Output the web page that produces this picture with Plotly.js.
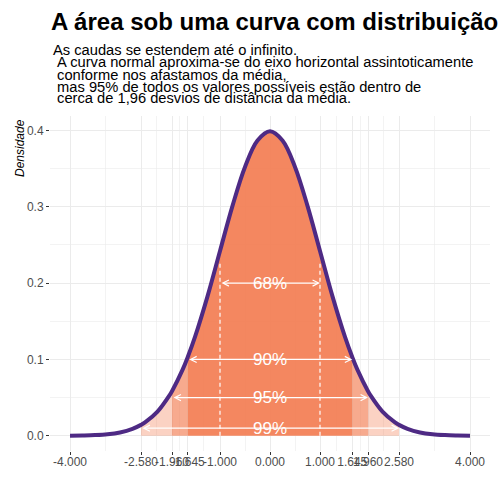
<!DOCTYPE html>
<html>
<head>
<meta charset="utf-8">
<script src="https://cdn.plot.ly/plotly-3.0.1.min.js"></script>
<style>html,body{margin:0;padding:0;background:#fff;}#chart{width:504px;height:504px;}</style>
</head>
<body>
<div id="chart"></div>
<script>
// Density curve values (standard normal shape)
const xVals = [-4.0, -3.75, -3.5, -3.25, -3.0, -2.75, -2.58, -2.5, -2.25, -2.0, -1.96, -1.75, -1.645, -1.5, -1.25, -1.0, -0.75, -0.5, -0.25, 0.0,
               0.25, 0.5, 0.75, 1.0, 1.25, 1.5, 1.645, 1.75, 1.96, 2.0, 2.25, 2.5, 2.58, 2.75, 3.0, 3.25, 3.5, 3.75, 4.0];
const density = [0.0001, 0.0004, 0.0009, 0.0020, 0.0044, 0.0091, 0.0143, 0.0175, 0.0317, 0.0540, 0.0584, 0.0863, 0.1031, 0.1295, 0.1826, 0.2420, 0.3011, 0.3521, 0.3867, 0.3989,
                 0.3867, 0.3521, 0.3011, 0.2420, 0.1826, 0.1295, 0.1031, 0.0863, 0.0584, 0.0540, 0.0317, 0.0175, 0.0143, 0.0091, 0.0044, 0.0020, 0.0009, 0.0004, 0.0001];

// Interval bounds and labels
const intervalLabels = ["68%", "90%", "95%", "99%"];
const intervalBounds = [1.0, 1.645, 1.96, 2.58];
const arrowHeights = [0.2, 0.1, 0.05, 0.01];

// Axis ticks
const xTicks = [-4, -2.58, -1.96, -1.645, -1, 0, 1, 1.645, 1.96, 2.58, 4];
const xTickText = ["-4.000", "-2.580", "-1.960", "-1.645", "-1.000", "0.000", "1.000", "1.645", "1.960", "2.580", "4.000"];
const yTicks = [0.0, 0.1, 0.2, 0.3, 0.4];
const yTickText = ["0.0", "0.1", "0.2", "0.3", "0.4"];
const yMinor = [0.05, 0.15, 0.25, 0.35];

const dashTop = 0.227;

const subtitleLines = [
  "As caudas se estendem até o infinito.",
  " A curva normal aproxima-se do eixo horizontal assintoticamente",
  " conforme nos afastamos da média,",
  " mas 95% de todos os valores possíveis estão dentro de",
  " cerca de 1,96 desvios de distância da média."
];

function segment(a, b) {
  const xs = [], ys = [];
  xVals.forEach((x, i) => { if (x >= a - 1e-9 && x <= b + 1e-9) { xs.push(x); ys.push(density[i]); } });
  return {xs, ys};
}

const outerCol = "rgba(243,125,82,0.35)";
const midCol = "rgba(243,125,82,0.65)";
const centerCol = "rgba(243,125,82,0.92)";

const regions = [
  [-intervalBounds[3], -intervalBounds[2], outerCol],
  [-intervalBounds[2], -intervalBounds[1], midCol],
  [-intervalBounds[1], intervalBounds[1], centerCol],
  [intervalBounds[1], intervalBounds[2], midCol],
  [intervalBounds[2], intervalBounds[3], outerCol]
];

const traces = [];
regions.forEach(r => {
  const s = segment(r[0], r[1]);
  traces.push({x: s.xs, y: s.ys, type: "scatter", mode: "lines", fill: "tozeroy",
    fillcolor: r[2], line: {width: 0, shape: "spline", color: r[2]}, hoverinfo: "skip", showlegend: false});
});
traces.push({x: xVals, y: density, type: "scatter", mode: "lines",
  line: {color: "#4E2A84", width: 4, shape: "spline"}, showlegend: false});
[-intervalBounds[0], intervalBounds[0]].forEach(xv => {
  traces.push({x: [xv, xv], y: [0, dashTop], type: "scatter", mode: "lines",
    line: {color: "#ffffff", width: 1.2, dash: "4px,3px"}, showlegend: false});
});

const L = 50, R = 490, T = 116, B = 451;
const px = v => (v - L) / (R - L);
const py = v => (B - v) / (B - T);

const annotations = [];
intervalLabels.forEach((lab, i) => {
  const b = intervalBounds[i], h = arrowHeights[i];
  annotations.push({x: b, y: h, ax: -b, ay: h, xref: "x", yref: "y", axref: "x", ayref: "y",
    showarrow: true, arrowside: "end+start", arrowhead: 5, startarrowhead: 5, arrowsize: 1, startarrowsize: 1,
    arrowwidth: 1.2, arrowcolor: "#ffffff", text: "", standoff: 0, startstandoff: 0});
  annotations.push({x: 0, y: h, xref: "x", yref: "y", text: lab, showarrow: false,
    font: {family: "Liberation Sans, Arial, sans-serif", size: 17, color: "#ffffff"}, xanchor: "center", yanchor: "middle"});
});
const subY = [50, 62.5, 74.5, 86.5, 98.5];
subtitleLines.forEach((t, i) => {
  annotations.push({x: px(51), y: py(subY[i]), xref: "paper", yref: "paper", text: t.replace(/^ /, "&nbsp;"),
    showarrow: false, xanchor: "left", yanchor: "middle",
    font: {family: "Liberation Sans, Arial, sans-serif", size: 14.7, color: "#000000"}});
});
annotations.push({x: px(20), y: py(117), xref: "paper", yref: "paper", text: "<i>Densidade</i>", textangle: -90,
  showarrow: false, xanchor: "center", yanchor: "top",
  font: {family: "Liberation Sans, Arial, sans-serif", size: 12, color: "#000000"}});

const layout = {
  width: 504, height: 504,
  margin: {l: L, r: 504 - R, t: T, b: 504 - B, pad: 0},
  paper_bgcolor: "#ffffff", plot_bgcolor: "#ffffff",
  showlegend: false,
  title: {text: "<b>A área sob uma curva com distribuição</b>", xref: "container", yref: "container",
    x: 51 / 504, y: 1 - 22 / 504, xanchor: "left", yanchor: "middle",
    font: {family: "Liberation Sans, Arial, sans-serif", size: 24, color: "#000000"}},
  xaxis: {range: [-4.4, 4.4], tickmode: "array", tickvals: xTicks, ticktext: xTickText, tickangle: 0,
    showgrid: true, gridcolor: "#ebebeb", gridwidth: 1, zeroline: false, showline: false,
    ticks: "outside", ticklen: 3, tickcolor: "#333333", tickwidth: 1, ticklabelstandoff: -3,
    tickfont: {family: "Liberation Sans, Arial, sans-serif", size: 12, color: "#4d4d4d"},
    minor: {tickmode: "array", tickvals: xTicks.slice(0, -1).map((v, i) => (v + xTicks[i + 1]) / 2),
      showgrid: true, gridcolor: "#ebebeb", gridwidth: 0.6, ticks: ""}},
  yaxis: {range: [-0.0199, 0.4188], tickmode: "array", tickvals: yTicks, ticktext: yTickText,
    showgrid: true, gridcolor: "#ebebeb", gridwidth: 1, zeroline: false, showline: false,
    ticks: "outside", ticklen: 3, tickcolor: "#333333", tickwidth: 1,
    tickfont: {family: "Liberation Sans, Arial, sans-serif", size: 12, color: "#4d4d4d"},
    minor: {tickmode: "array", tickvals: yMinor, showgrid: true, gridcolor: "#ebebeb", gridwidth: 0.6, ticks: ""}},
  annotations: annotations
};

Plotly.newPlot("chart", traces, layout, {displayModeBar: false, staticPlot: true});
</script>
</body>
</html>
